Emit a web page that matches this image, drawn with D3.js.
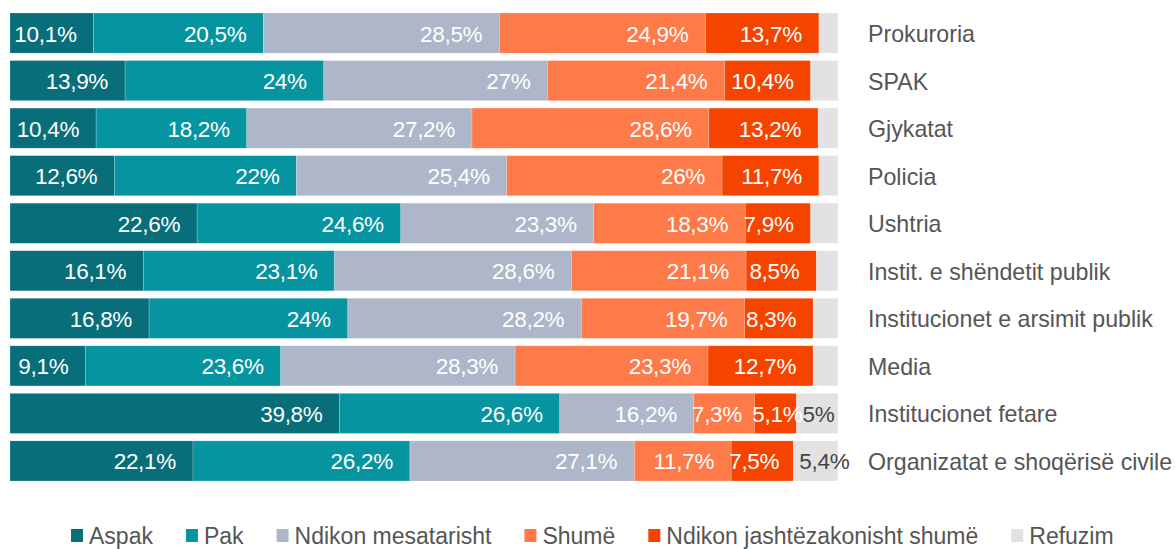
<!DOCTYPE html>
<html>
<head>
<meta charset="utf-8">
<script src="https://cdn.jsdelivr.net/npm/d3@7"></script>
<style>
  body { margin: 0; background: #fff; }
  svg { display: block; font-family: "Liberation Sans", Arial, sans-serif; }
</style>
</head>
<body>
<div id="chart"></div>
<script>
const width = 1175,
      height = 549;

// categories, top to bottom
const categories = ['Prokuroria', 'SPAK', 'Gjykatat', 'Policia', 'Ushtria',
  'Instit. e shëndetit publik', 'Institucionet e arsimit publik', 'Media',
  'Institucionet fetare', 'Organizatat e shoqërisë civile'];

const seriesNames = ['Aspak', 'Pak', 'Ndikon mesatarisht', 'Shumë',
  'Ndikon jashtëzakonisht shumë', 'Refuzim'];
const seriesColors = ['#086e79', '#0794a1', '#adb7c9', '#fe7a49', '#f54400', '#e2e2e2'];

// values in %, one array per series (same order as categories)
const aspak    = [10.1, 13.9, 10.4, 12.6, 22.6, 16.1, 16.8, 9.1, 39.8, 22.1];
const pak      = [20.5, 24, 18.2, 22, 24.6, 23.1, 24, 23.6, 26.6, 26.2];
const mesatar  = [28.5, 27, 27.2, 25.4, 23.3, 28.6, 28.2, 28.3, 16.2, 27.1];
const shume    = [24.9, 21.4, 28.6, 26, 18.3, 21.1, 19.7, 23.3, 7.3, 11.7];
const jashte   = [13.7, 10.4, 13.2, 11.7, 7.9, 8.5, 8.3, 12.7, 5.1, 7.5];
const refuzim  = [2.3, 3.3, 2.4, 2.3, 3.3, 2.6, 3, 3, 5, 5.4];

const seriesValues = [aspak, pak, mesatar, shume, jashte, refuzim];

const fmt = v => String(v).replace('.', ',') + '%';

const rows = categories.map((c, i) => {
  const r = { cat: c };
  seriesNames.forEach((s, j) => r[s] = seriesValues[j][i]);
  return r;
});

const stacked = d3.stack().keys(seriesNames)(rows);

const x = d3.scaleLinear().domain([0, 100]).range([10, 838]);
const y = d3.scaleBand().domain(categories).range([13, 481])
  .paddingInner(0.156).paddingOuter(0);

const svg = d3.select('#chart').append('svg')
  .attr('width', width).attr('height', height);

// bars
const layers = svg.selectAll('g.layer')
  .data(stacked)
  .enter().append('g')
  .attr('class', 'layer')
  .attr('fill', (d, i) => seriesColors[i]);

layers.selectAll('rect')
  .data(d => d)
  .enter().append('rect')
  .attr('x', d => x(d[0]))
  .attr('y', d => y(d.data.cat))
  .attr('width', d => x(d[1]) - x(d[0]))
  .attr('height', y.bandwidth())
  .attr('stroke', '#fff')
  .attr('stroke-opacity', 0.35)
  .attr('stroke-width', 0.6);

// value labels (right aligned, pushed right when the segment is too narrow)
stacked.forEach((layer, i) => {
  layer.forEach(d => {
    const v = d[1] - d[0];
    if (v < 5) return;
    const t = svg.append('text')
      .attr('y', y(d.data.cat) + y.bandwidth() / 2 + 1)
      .attr('dominant-baseline', 'central')
      .attr('text-anchor', 'end')
      .attr('font-size', 22.5)
      .attr('letter-spacing', -0.3)
      .attr('fill', i === 5 ? '#444' : '#fff')
      .text(fmt(seriesValues[i][categories.indexOf(d.data.cat)]));
    const tw = t.node().getComputedTextLength();
    const pad = i === 5 ? 6 : -2;
    const end = Math.max(x(d[1]) - 17, x(d[0]) + tw + pad);
    t.attr('x', end);
  });
});

// category labels
svg.selectAll('text.cat')
  .data(categories)
  .enter().append('text')
  .attr('class', 'cat')
  .attr('x', 868)
  .attr('y', d => y(d) + y.bandwidth() / 2 + 1)
  .attr('dominant-baseline', 'central')
  .attr('font-size', 23.2)
  .attr('fill', '#555')
  .text(d => d);

// legend
const legend = svg.append('g');
let lx = 71;
seriesNames.forEach((s, i) => {
  legend.append('rect')
    .attr('x', lx).attr('y', 529)
    .attr('width', 12).attr('height', 13)
    .attr('fill', seriesColors[i]);
  const t = legend.append('text')
    .attr('x', lx + 18).attr('y', 544)
    .attr('font-size', 23)
    .attr('fill', '#555')
    .text(s);
  lx += 18 + t.node().getComputedTextLength() + 33;
});
</script>
</body>
</html>
